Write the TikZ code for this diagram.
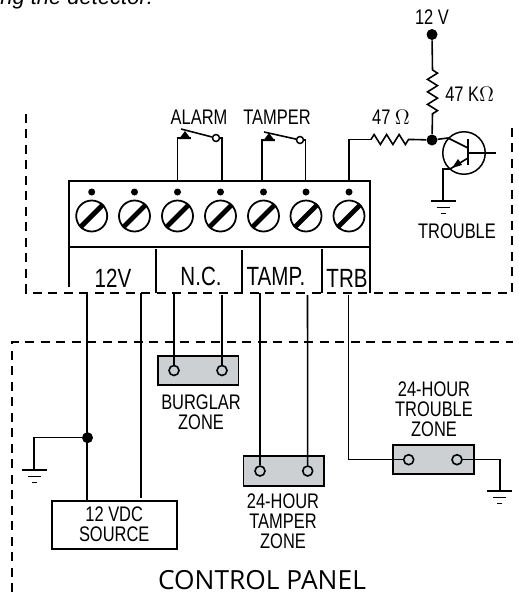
\documentclass[tikz,border=0pt]{standalone}
\usepackage{fontspec}
\setmainfont{Liberation Sans}
\newfontfamily\narrowfont[FakeStretch=0.78]{Liberation Sans}
\newfontfamily\panelfont{Open Sans}
\usetikzlibrary{calc,decorations.pathmorphing}
\definecolor{zonegray}{RGB}{205,208,210}
\tikzset{
	wire/.style={black,line width=0.9pt},
	border/.style={black,line width=0.85pt,dash pattern=on 0.18cm off 0.13cm},
	label/.style={inner sep=0pt,align=center,font=\narrowfont\fontsize{12}{11.4}\selectfont},
	blocklabel/.style={inner sep=0pt,font=\narrowfont\fontsize{15}{15}\selectfont},
	joint/.style={circle,fill=black,inner sep=0pt,minimum size=0.22cm},
	markdot/.style={circle,fill=black,inner sep=0pt,minimum size=0.14cm},
	contact/.style={circle,draw=black,fill=white,line width=0.85pt,inner sep=0pt,minimum size=0.14cm},
	zonehole/.style={circle,draw=black,line width=0.9pt,inner sep=0pt,minimum size=0.2cm},
	zonebox/.style={draw=black,fill=zonegray,line width=1.1pt},
	resistor/.style={wire,decorate,decoration={zigzag,segment length=0.25cm,amplitude=0.1cm}}
}
\newcommand{\earth}[1]{
	\draw[wire] ($(#1)+(-12.5,0)$) -- ($(#1)+(12.5,0)$);
	\draw[wire] ($(#1)+(-6.5,6.5)$) -- ($(#1)+(6.5,6.5)$);
	\draw[wire] ($(#1)+(-2.5,12.5)$) -- ($(#1)+(2.5,12.5)$);
}
\begin{document}
\begin{tikzpicture}[x=0.02cm,y=-0.02cm]
	\useasboundingbox (0,0) rectangle (519,592);

	%clipped line of text above
	\node[anchor=base west,inner sep=0pt,font=\itshape\fontsize{12.5}{14}\selectfont] (caption) at (0,4.5) {ng the detector:};

	%dashed outlines
	\draw[border] (26,114) -- (26,293) -- (512,293) -- (512,122);
	\draw[border] (12,592) -- (12,342) -- (513,342);

	%terminal block
	\draw[wire,line width=1.1pt] (69,287) -- (69,181) -- (370,181) -- (370,293);
	\draw[wire,line width=1.1pt] (69,247) -- (370,247);
	\draw[wire] (156,249) -- (156,293);
	\draw[wire] (242,250) -- (242,293);
	\draw[wire] (322,249) -- (322,293);

	%screws and their dots
	\foreach \name/\xpos in {a/91.7,b/134.5,c/177.5,d/220.5,e/263.5,f/306,g/349} {
		\node[markdot] (dot\name) at (\xpos,192) {};
		\node[circle,draw=black,line width=1pt,inner sep=0pt,minimum size=0.62cm] (screw\name) at (\xpos,216) {};
		\draw[black,line width=2.8pt] (screw\name.225) -- (screw\name.45);
	}

	%labels of the block
	\node[blocklabel] (lab12v) at (113,278) {12V};
	\node[blocklabel] (labnc) at (201,276) {N.C.};
	\node[blocklabel] (labtamp) at (276,276) {TAMP.};
	\node[blocklabel] (labtrb) at (347,278) {TRB};

	%alarm contact
	\node[label] (alarm) at (199,117) {ALARM};
	\coordinate (alarmtop) at (177.5,181);
	\coordinate (alarmend) at (222,181);
	\node[contact] (alarmhole) at (216,138) {};
	\coordinate (alarmlever) at (181,129);
	\draw[wire] (alarmtop) -- (177.5,138) -- (191,138);
	\fill (179,139) -- (185,131) -- (191,139) -- cycle;
	\draw[wire] (alarmlever) -- (alarmhole);
	\draw[wire] (alarmend) -- (222,138) -- (alarmhole);

	%tamper contact
	\node[label] (tamper) at (277,117) {TAMPER};
	\coordinate (tampertop) at (262,181);
	\coordinate (tamperend) at (305.7,181);
	\node[contact] (tamperhole) at (300,140) {};
	\coordinate (tamperlever) at (264,132);
	\draw[wire] (tampertop) -- (262,140) -- (275,140);
	\fill (263,141) -- (269,133) -- (275,141) -- cycle;
	\draw[wire] (tamperlever) -- (tamperhole);
	\draw[wire] (tamperend) -- (305.7,140) -- (tamperhole);

	%trouble output
	\node[joint] (supply) at (432,34.5) {};
	\node[joint] (base) at (432,140) {};
	\node[label] (volts) at (432,17) {12 V};
	\node[label,anchor=west] (kohm) at (445,94) {47 K$\Omega$};
	\node[label] (ohm) at (391,117) {47 $\Omega$};
	\coordinate (upperres) at (432.5,70);
	\coordinate (lowerres) at (432.5,114);
	\coordinate (leftres) at (371,139.5);
	\coordinate (rightres) at (413,139.5);
	\draw[wire] (supply) -- (upperres);
	\draw[resistor] (upperres) -- (lowerres);
	\draw[wire] (lowerres) -- (base);
	\draw[wire] (349,181) -- (349,139.5) -- (leftres);
	\draw[resistor] (leftres) -- (rightres);
	\draw[wire] (rightres) -- (base);

	%transistor
	\node[circle,draw=black,line width=0.85pt,inner sep=0pt,minimum size=0.85cm] (transistor) at (464,153) {};
	\draw[wire,line width=1.2pt] (468,139) -- (468,165);
	\draw[wire] (468,153) -- (496,153);
	\draw[wire] (base) -- (448,138) -- (468,148);
	\draw[wire] (468,158) -- (450,169) -- (443,169) -- (443,201);
	\fill (452,168) -- (458,159) -- (462,165) -- cycle;
	\coordinate (transearth) at (443,201);
	\earth{transearth}
	\node[label] (trouble) at (457,231) {TROUBLE};

	%burglar zone
	\draw[zonebox] (158,355.7) rectangle (238.5,384.7);
	\node[zonehole] (burgla) at (174,370.5) {};
	\node[zonehole] (burglb) at (222,370.5) {};
	\draw[wire] (174,293) -- (burgla);
	\draw[wire] (222,295) -- (burglb);
	\node[label] (burglar) at (201,412) {BURGLAR\\ZONE};

	%tamper zone
	\draw[zonebox] (243.5,455.7) rectangle (324,485.7);
	\node[zonehole] (tampa) at (260,471) {};
	\node[zonehole] (tampb) at (307.7,471) {};
	\draw[wire] (260,293) -- (tampa);
	\draw[wire] (307.5,295) -- (tampb);
	\node[label] (tampzone) at (283,521.7) {24-HOUR\\TAMPER\\ZONE};

	%trouble zone
	\draw[zonebox] (393,444.7) rectangle (473.7,474);
	\node[zonehole] (troua) at (408.7,459.7) {};
	\node[zonehole] (troub) at (457,459.7) {};
	\draw[wire] (348.5,295) -- (348.5,459.7) -- (troua);
	\draw[wire] (troub) -- (500,459.7) -- (500,490);
	\coordinate (zoneearth) at (499.5,491);
	\earth{zoneearth}
	\node[label] (trouzone) at (434,409) {24-HOUR\\TROUBLE\\ZONE};

	%12 volt source
	\node[draw=black,line width=1.1pt,minimum width=2.5cm,minimum height=0.96cm,inner sep=0pt,align=center,font=\narrowfont\fontsize{12}{11.4}\selectfont] (source) at (114.2,524.7) {12 VDC\\SOURCE};
	\node[joint] (ground) at (87.5,437.7) {};
	\draw[wire] (87,293) -- (87,500.7);
	\draw[wire] (141,293) -- (141,498);
	\draw[wire] (ground) -- (34,437.7) -- (34,470);
	\coordinate (srcearth) at (34.5,470);
	\earth{srcearth}

	\node[anchor=base,inner sep=0pt,font=\panelfont\fontsize{15}{16}\selectfont] (panel) at (262,589.5) {CONTROL PANEL};
\end{tikzpicture}
\end{document}
